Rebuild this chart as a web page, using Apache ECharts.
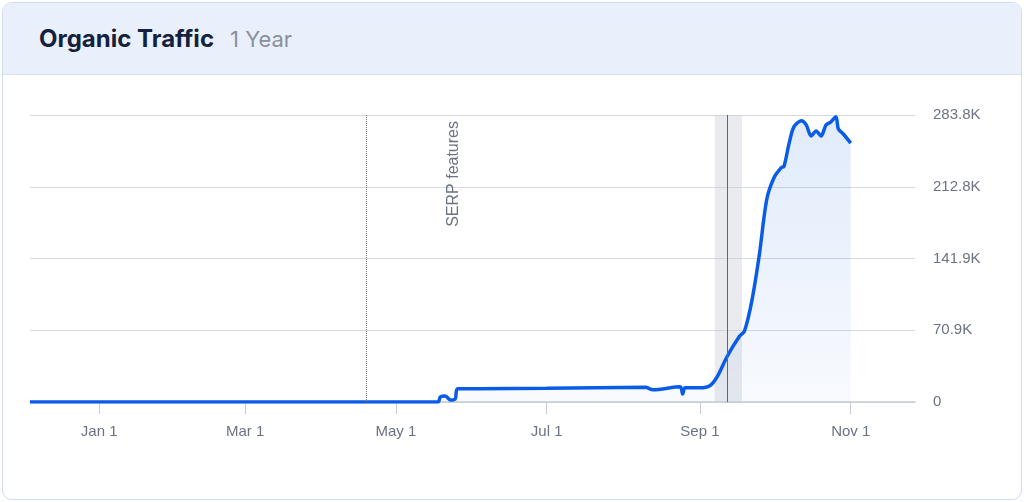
<!DOCTYPE html><html><head><meta charset="utf-8">
<script src="https://cdn.jsdelivr.net/npm/echarts@6/dist/echarts.min.js"></script>
<style>body{margin:0;background:#fff;font-family:Inter,Lato,sans-serif}
#card{position:absolute;left:2px;top:2px;width:1018px;height:496px;border:1px solid #cfdcf5;border-radius:10px;overflow:hidden}
#hdr{height:71px;background:#e9f0fc;border-bottom:1px solid #d5e0f5;display:flex;align-items:center;padding-left:36px}
#hdr b{font-size:24px;color:#14213d;font-weight:700}#hdr span{font-size:22px;color:#8a909c;margin-left:16px}
#c{position:absolute;left:0;top:73px;width:1024px;height:429px}</style></head><body>
<div id="card"><div id="hdr"><b>Organic Traffic</b><span>1 Year</span></div></div>
<div id="c"></div>
<script>
const dates=['2022-12-04','2023-05-18','2023-05-19','2023-05-21','2023-05-23','2023-05-25','2023-05-26','2023-07-01','2023-08-10','2023-08-13','2023-08-24','2023-08-25','2023-08-26','2023-09-01','2023-09-05','2023-09-08','2023-09-12','2023-09-17','2023-09-19','2023-09-22','2023-09-25','2023-09-28','2023-10-01','2023-10-04','2023-10-05','2023-10-07','2023-10-09','2023-10-12','2023-10-14','2023-10-16','2023-10-18','2023-10-20','2023-10-22','2023-10-24','2023-10-26','2023-10-27','2023-10-29','2023-11-01'];
const traffic=[0,0,5000,6000,2000,3000,13000,13500,14500,12000,15000,8000,14000,14000,16000,25000,45000,65000,70000,100000,145000,200000,222000,232000,233000,255000,272000,278000,274000,263000,268000,263000,274000,277000,282000,270000,265000,256000];
const yTicks=['0','70.9K','141.9K','212.8K','283.8K'];
const xTicks=['2023-01-01','2023-03-01','2023-05-01','2023-07-01','2023-09-01','2023-11-01'];
const xLabels=['Jan 1','Mar 1','May 1','Jul 1','Sep 1','Nov 1'];
const serpDate='2023-04-19', bandStart='2023-09-07', bandEnd='2023-09-18', markDate='2023-09-12';
const yMax=283800;
const ch=echarts.init(document.getElementById('c'));
const t=d=>new Date(d+'T00:00:00Z').getTime();
const xt=xTicks.map(t);
ch.setOption({animation:false,
grid:{left:30,right:109,top:42,bottom:100},
xAxis:{type:'value',min:t('2022-12-04'),max:t('2023-11-27'),
 axisLine:{lineStyle:{color:'#c8ccd4',width:1.5}},
 axisTick:{show:true,length:12,lineStyle:{color:'#c8ccd4'},customValues:xt},
 axisLabel:{customValues:xt,margin:22,color:'#6b7280',fontSize:15,showMinLabel:true,showMaxLabel:true,formatter:v=>{const i=xt.indexOf(v);return i<0?'':xLabels[i];}},
 splitLine:{show:false}},
yAxis:{type:'value',position:'right',min:0,max:yMax,interval:yMax/4,
 axisLabel:{color:'#6b7280',fontSize:15,margin:18,formatter:(v,i)=>yTicks[i]},
 splitLine:{lineStyle:{color:'#d6d9de',width:1.2}},axisLine:{show:false},axisTick:{show:false}},
series:[{type:'line',data:dates.map((d,i)=>[t(d),traffic[i]]),smooth:0.3,showSymbol:false,
 lineStyle:{color:'#0a5ce6',width:3.5},
 areaStyle:{color:new echarts.graphic.LinearGradient(0,0,0,1,[{offset:0,color:'rgba(80,140,230,0.25)'},{offset:1,color:'rgba(80,140,230,0.06)'}])},
 markArea:{silent:true,itemStyle:{color:'rgba(200,204,212,0.4)'},data:[[{xAxis:t(bandStart)},{xAxis:t(bandEnd)}]]},
 markLine:{silent:true,symbol:'none',data:[
  {xAxis:t(serpDate),lineStyle:{type:'dotted',color:'#777',width:1},label:{show:true,position:'insideEndTop',formatter:'SERP features',color:'#6b7280',fontSize:16,distance:[6,-95]}},
  {xAxis:t(markDate),lineStyle:{type:'solid',color:'#666',width:1},label:{show:false}}]}}]});
</script></body></html>
